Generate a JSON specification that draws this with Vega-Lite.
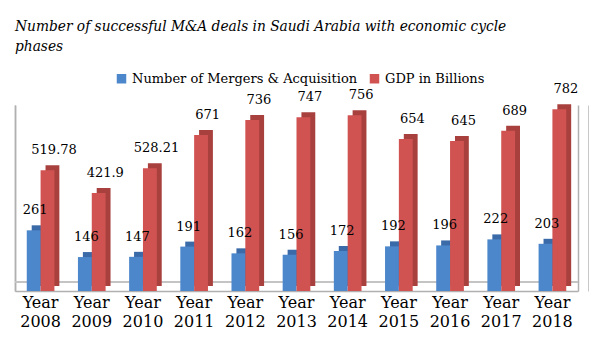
{
  "$schema": "https://vega.github.io/schema/vega-lite/v6.json",
  "width": 563,
  "height": 186,
  "padding": {"left": 14, "top": 18, "right": 10, "bottom": 5},
  "background": "white",
  "title": {
    "text": ["Number of successful M&A deals in Saudi Arabia with economic cycle", "phases"],
    "anchor": "start",
    "frame": "group",
    "font": "DejaVu Serif Condensed",
    "fontStyle": "italic",
    "fontWeight": "normal",
    "fontSize": 15.3,
    "lineHeight": 20,
    "color": "black",
    "offset": 18
  },
  "config": {
    "view": {"stroke": null},
    "font": "DejaVu Serif"
  },
  "resolve": {"scale": {"xOffset": "independent"}, "axis": {"y": "independent"}},
  "data": {
    "values": [
      {"year": "Year 2008", "series": "Number of Mergers & Acquisition", "value": 261, "label": "261"},
      {"year": "Year 2009", "series": "Number of Mergers & Acquisition", "value": 146, "label": "146"},
      {"year": "Year 2010", "series": "Number of Mergers & Acquisition", "value": 147, "label": "147"},
      {"year": "Year 2011", "series": "Number of Mergers & Acquisition", "value": 191, "label": "191"},
      {"year": "Year 2012", "series": "Number of Mergers & Acquisition", "value": 162, "label": "162"},
      {"year": "Year 2013", "series": "Number of Mergers & Acquisition", "value": 156, "label": "156"},
      {"year": "Year 2014", "series": "Number of Mergers & Acquisition", "value": 172, "label": "172"},
      {"year": "Year 2015", "series": "Number of Mergers & Acquisition", "value": 192, "label": "192"},
      {"year": "Year 2016", "series": "Number of Mergers & Acquisition", "value": 196, "label": "196"},
      {"year": "Year 2017", "series": "Number of Mergers & Acquisition", "value": 222, "label": "222"},
      {"year": "Year 2018", "series": "Number of Mergers & Acquisition", "value": 203, "label": "203"},
      {"year": "Year 2008", "series": "GDP in Billions", "value": 519.78, "label": "519.78"},
      {"year": "Year 2009", "series": "GDP in Billions", "value": 421.9, "label": "421.9"},
      {"year": "Year 2010", "series": "GDP in Billions", "value": 528.21, "label": "528.21"},
      {"year": "Year 2011", "series": "GDP in Billions", "value": 671, "label": "671"},
      {"year": "Year 2012", "series": "GDP in Billions", "value": 736, "label": "736"},
      {"year": "Year 2013", "series": "GDP in Billions", "value": 747, "label": "747"},
      {"year": "Year 2014", "series": "GDP in Billions", "value": 756, "label": "756"},
      {"year": "Year 2015", "series": "GDP in Billions", "value": 654, "label": "654"},
      {"year": "Year 2016", "series": "GDP in Billions", "value": 645, "label": "645"},
      {"year": "Year 2017", "series": "GDP in Billions", "value": 689, "label": "689"},
      {"year": "Year 2018", "series": "GDP in Billions", "value": 782, "label": "782"}
    ]
  },
  "encoding": {
    "x": {
      "field": "year",
      "type": "nominal",
      "sort": null,
      "scale": {"paddingInner": 0, "paddingOuter": 0},
      "axis": {
        "title": null,
        "labelAngle": 0,
        "labelExpr": "split(datum.label, ' ')",
        "labelFont": "DejaVu Serif",
        "labelFontSize": 16,
        "labelLineHeight": 19,
        "labelColor": "black",
        "labelPadding": 3,
        "ticks": false,
        "domainColor": "#b0b0b0",
        "domainWidth": 1.5
      }
    },
    "y": {
      "field": "value",
      "type": "quantitative",
      "scale": {"domain": [0, 800], "nice": false},
      "axis": {
        "title": null,
        "labels": false,
        "ticks": false,
        "grid": false,
        "domainColor": "#b0b0b0",
        "domainWidth": 1.5
      }
    }
  },
  "layer": [
    {
      "mark": {"type": "rule", "color": "#c4c4c4", "strokeWidth": 2, "yOffset": -9},
      "encoding": {
        "y": {
          "datum": 0,
          "type": "quantitative",
          "scale": {"domain": [0, 800], "nice": false},
          "axis": {"orient": "right", "offset": 10, "title": null, "labels": false, "ticks": false, "grid": false, "domainColor": "#c8c8c8", "domainWidth": 1}
        },
        "x": null
      }
    },
    {
      "mark": {"type": "bar", "yOffset": -5, "y2Offset": -5},
      "encoding": {
        "xOffset": {
          "field": "series",
          "type": "nominal",
          "sort": ["Number of Mergers & Acquisition", "GDP in Billions"],
          "scale": {"paddingInner": 0, "paddingOuter": 0.85, "align": 0.71}
        },
        "color": {
          "field": "series",
          "type": "nominal",
          "sort": ["Number of Mergers & Acquisition", "GDP in Billions"],
          "scale": {"range": ["#3b6aa8", "#a8403e"]},
          "legend": null
        }
      }
    },
    {
      "mark": {"type": "bar"},
      "encoding": {
        "xOffset": {
          "field": "series",
          "type": "nominal",
          "sort": ["Number of Mergers & Acquisition", "GDP in Billions"],
          "scale": {"paddingInner": 0, "paddingOuter": 0.85}
        },
        "fill": {
          "field": "series",
          "type": "nominal",
          "sort": ["Number of Mergers & Acquisition", "GDP in Billions"],
          "scale": {"range": ["#4d87cb", "#d05352"]},
          "legend": {
            "title": null,
            "orient": "none",
            "legendX": 100,
            "legendY": -33,
            "direction": "horizontal",
            "symbolType": "square",
            "symbolSize": 90,
            "symbolStrokeWidth": 0,
            "labelFont": "DejaVu Serif",
            "labelFontSize": 13,
            "labelColor": "black",
            "labelLimit": 0,
            "columnPadding": 10
          }
        }
      }
    },
    {
      "mark": {"type": "text", "font": "DejaVu Serif", "fontSize": 13, "color": "black", "dy": -16, "dx": 4, "baseline": "alphabetic"},
      "encoding": {
        "xOffset": {
          "field": "series",
          "type": "nominal",
          "sort": ["Number of Mergers & Acquisition", "GDP in Billions"],
          "scale": {"paddingInner": 0, "paddingOuter": 0.85}
        },
        "text": {"field": "label"}
      }
    }
  ]
}
